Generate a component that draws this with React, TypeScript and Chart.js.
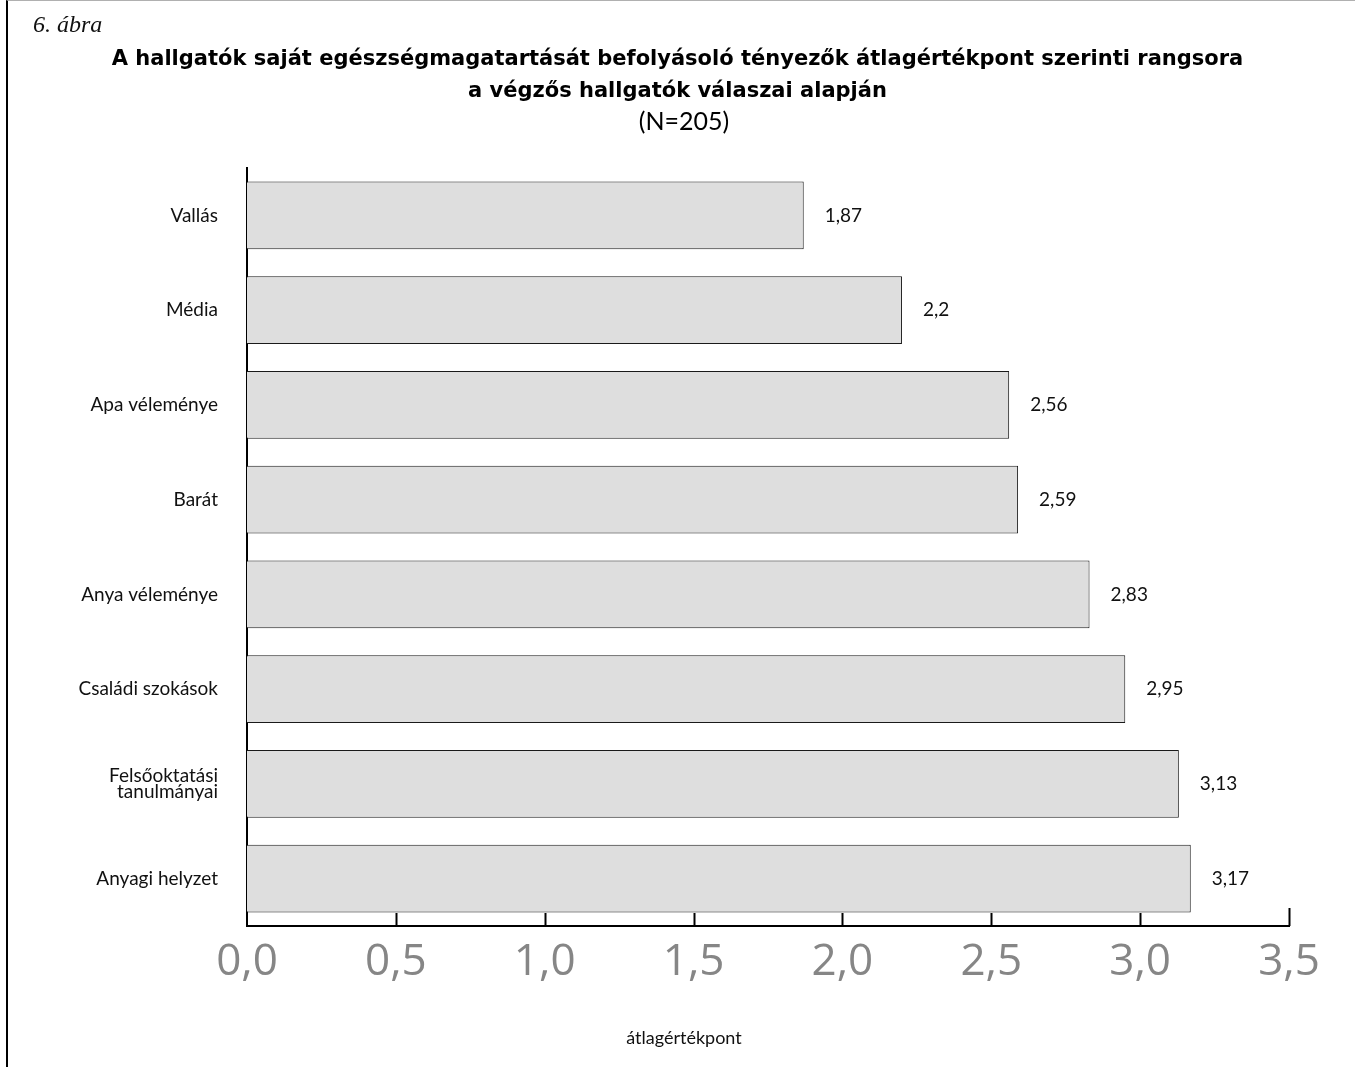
import React, { useEffect, useRef } from 'react';
import { Chart, registerables } from 'chart.js';

Chart.register(...registerables);

const categories: (string | string[])[] = [
  'Vallás',
  'Média',
  'Apa véleménye',
  'Barát',
  'Anya véleménye',
  'Családi szokások',
  ['Felsőoktatási', 'tanulmányai'],
  'Anyagi helyzet',
];
const values = [1.87, 2.2, 2.56, 2.59, 2.83, 2.95, 3.13, 3.17];
const valueLabels = ['1,87', '2,2', '2,56', '2,59', '2,83', '2,95', '3,13', '3,17'];
const xTickValues = [0, 0.5, 1, 1.5, 2, 2.5, 3, 3.5];
const xTickLabels = ['0,0', '0,5', '1,0', '1,5', '2,0', '2,5', '3,0', '3,5'];

const figureLabel = '6. ábra';
const titleLines = [
  'A hallgatók saját egészségmagatartását befolyásoló tényezők átlagértékpont szerinti rangsora',
  'a végzős hallgatók válaszai alapján',
];
const subtitle = '(N=205)';
const xAxisTitle = 'átlagértékpont';

const innerTicks = {
  id: 'innerTicks',
  afterDraw(chart: any) {
    const ctx = chart.ctx;
    const xs = chart.scales.x;
    const bottom = chart.chartArea.bottom;
    ctx.save();
    ctx.strokeStyle = '#000';
    ctx.lineWidth = 2;
    xs.ticks.forEach((_t: any, i: number) => {
      if (i === 0) return;
      const px = Math.round(xs.getPixelForTick(i)) + 0.5;
      ctx.beginPath();
      ctx.moveTo(px, bottom);
      ctx.lineTo(px, bottom - (i === xs.ticks.length - 1 ? 18 : 13));
      ctx.stroke();
    });
    ctx.restore();
  },
};

const barValueLabels = {
  id: 'barValueLabels',
  afterDatasetsDraw(chart: any) {
    const ctx = chart.ctx;
    const meta = chart.getDatasetMeta(0);
    ctx.save();
    ctx.fillStyle = '#111';
    ctx.font = '19px Lato';
    ctx.textAlign = 'left';
    ctx.textBaseline = 'middle';
    meta.data.forEach((bar: any, i: number) => {
      ctx.fillText(valueLabels[i], bar.x + 21, bar.y);
    });
    ctx.restore();
  },
};

export default function App() {
  const canvasRef = useRef<HTMLCanvasElement | null>(null);

  useEffect(() => {
    if (!canvasRef.current) return;
    const chart = new Chart(canvasRef.current, {
      type: 'bar',
      data: {
        labels: categories as any,
        datasets: [
          {
            data: values,
            backgroundColor: '#dedede',
            borderColor: '#1a1a1a',
            borderWidth: 1,
            barPercentage: 0.716,
            categoryPercentage: 1,
          },
        ],
      },
      options: {
        indexAxis: 'y',
        animation: false,
        responsive: false,
        maintainAspectRatio: false,
        devicePixelRatio: 1,
        layout: { padding: { top: 168, right: 66, bottom: 0, left: 0 } },
        plugins: {
          legend: { display: false },
          tooltip: { enabled: false },
          title: { display: false },
        },
        scales: {
          x: {
            type: 'linear',
            min: 0,
            max: 3.5,
            afterBuildTicks: (scale: any) => {
              scale.ticks = xTickValues.map((v) => ({ value: v }));
            },
            afterFit: (scale: any) => {
              scale.height = 141;
            },
            grid: { display: false, drawTicks: false },
            border: { display: true, color: '#000', width: 2 },
            ticks: {
              padding: 10,
              color: '#868686',
              font: { family: 'Open Sans', size: 44, weight: '400' },
              maxRotation: 0,
              callback: (_v: any, i: number) => xTickLabels[i],
            },
          },
          y: {
            afterFit: (scale: any) => {
              scale.width = 247;
            },
            grid: { display: false, drawTicks: false },
            border: { display: true, color: '#000', width: 2 },
            ticks: {
              padding: 29,
              color: '#111',
              font: { family: 'Lato', size: 19, lineHeight: 0.8 },
            },
          },
        },
      },
      plugins: [innerTicks, barValueLabels],
    });
    return () => chart.destroy();
  }, []);

  return (
    <div
      style={{
        position: 'absolute',
        left: 0,
        top: 0,
        width: 1355,
        height: 1067,
        background: '#fff',
        overflow: 'hidden',
      }}
    >
      <div
        style={{
          position: 'absolute',
          left: 6,
          top: 0,
          width: 1349,
          height: 1067,
          borderLeft: '2px solid #000',
          borderTop: '1px solid #b0b0b0',
          boxSizing: 'border-box',
        }}
      />
      <canvas
        ref={canvasRef}
        width={1355}
        height={1067}
        style={{ position: 'absolute', left: 0, top: 0, width: 1355, height: 1067 }}
      />
      <div
        style={{
          position: 'absolute',
          left: 33,
          top: 10,
          fontFamily: '"Liberation Serif", serif',
          fontStyle: 'italic',
          fontSize: 24,
          lineHeight: '28px',
          color: '#111',
        }}
      >
        {figureLabel}
      </div>
      <div
        style={{
          position: 'absolute',
          left: 0,
          top: 42,
          width: 1355,
          textAlign: 'center',
          fontFamily: '"DejaVu Sans", sans-serif',
          fontWeight: 'bold',
          fontSize: 21,
          lineHeight: '32px',
          color: '#000',
        }}
      >
        {titleLines.map((l, i) => (
          <div key={i}>{l}</div>
        ))}
      </div>
      <div
        style={{
          position: 'absolute',
          left: 0,
          top: 105,
          width: 1368,
          textAlign: 'center',
          fontFamily: 'Lato, sans-serif',
          fontSize: 25,
          lineHeight: '30px',
          color: '#000',
        }}
      >
        {subtitle}
      </div>
      <div
        style={{
          position: 'absolute',
          left: 0,
          top: 1025,
          width: 1368,
          textAlign: 'center',
          fontFamily: 'Lato, sans-serif',
          fontSize: 18,
          lineHeight: '24px',
          color: '#111',
        }}
      >
        {xAxisTitle}
      </div>
    </div>
  );
}
